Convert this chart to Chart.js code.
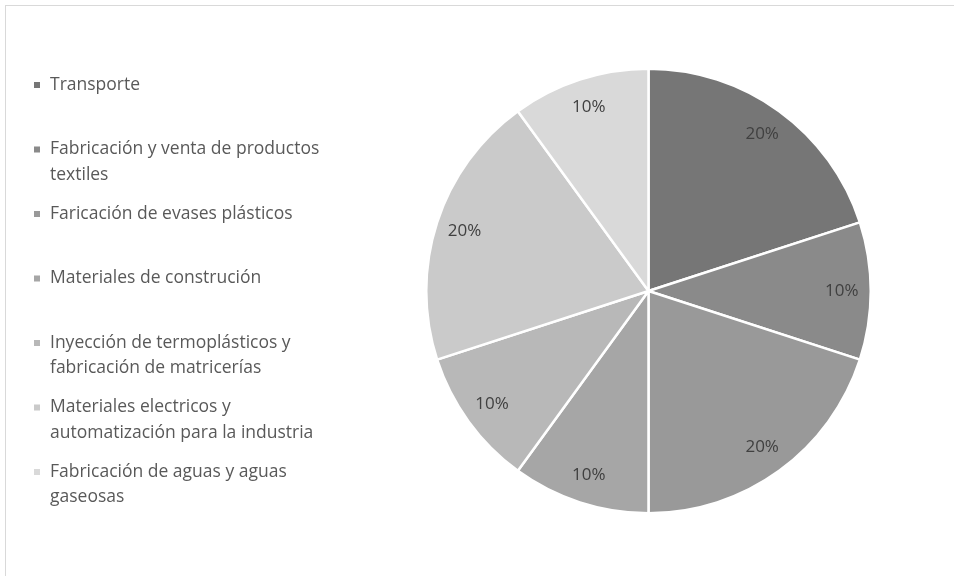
<!DOCTYPE html>
<html lang="es">
<head>
<meta charset="UTF-8">
<title>Sectores</title>
<script src="https://cdn.jsdelivr.net/npm/chart.js"></script>
<style>
  body { margin: 0; background: #fff; overflow: hidden; }
  #wrap { position: relative; width: 954px; height: 576px; }
  #frame { position: absolute; left: 5px; top: 5px; width: 949px; height: 571px;
           border-top: 1px solid #d9d9d9; border-left: 1px solid #d9d9d9; pointer-events: none; }
</style>
</head>
<body>
<div id="wrap">
  <canvas id="chart" width="954" height="576"></canvas>
  <div id="frame"></div>
</div>
<script>
const sectores = [
  "Transporte",
  ["Fabricación y venta de productos", "textiles"],
  "Faricación de evases plásticos",
  "Materiales de construción",
  ["Inyección de termoplásticos y", "fabricación de matricerías"],
  ["Materiales electricos y", "automatización para la industria"],
  ["Fabricación de aguas y aguas", "gaseosas"]
];
const porcentajes = [20, 10, 20, 10, 10, 20, 10];
const grises = ["#767676", "#8a8a8a", "#999999", "#a6a6a6", "#b8b8b8", "#cacaca", "#d9d9d9"];

const FONT = '"Open Sans", "Noto Sans", sans-serif';

// percentage text near the outer edge of each slice
const sliceLabels = {
  id: 'sliceLabels',
  afterDatasetsDraw(chart) {
    const ctx = chart.ctx;
    const values = chart.data.datasets[0].data;
    const total = values.reduce((a, b) => a + b, 0);
    ctx.save();
    ctx.font = '17px ' + FONT;
    ctx.fillStyle = '#404040';
    ctx.textAlign = 'center';
    ctx.textBaseline = 'middle';
    chart.getDatasetMeta(0).data.forEach((arc, i) => {
      const p = arc.getProps(['x', 'y', 'startAngle', 'endAngle', 'outerRadius'], true);
      const mid = (p.startAngle + p.endAngle) / 2;
      const r = p.outerRadius * 0.87;
      const txt = Math.round(values[i] / total * 100) + '%';
      ctx.fillText(txt, p.x + Math.cos(mid) * r, p.y + Math.sin(mid) * r);
    });
    ctx.restore();
  }
};

// legend on the left, evenly spaced items with wrapped names
const sideLegend = {
  id: 'sideLegend',
  afterDraw(chart) {
    const ctx = chart.ctx;
    const colors = chart.data.datasets[0].backgroundColor;
    ctx.save();
    ctx.font = '17.5px ' + FONT;
    ctx.textBaseline = 'middle';
    chart.data.labels.forEach((label, i) => {
      const lines = Array.isArray(label) ? label : [label];
      const y = 85 + i * 64.5;
      ctx.fillStyle = colors[i];
      ctx.fillRect(34, y - 3, 6, 6);
      ctx.fillStyle = '#595959';
      lines.forEach((line, j) => ctx.fillText(line, 50, y + j * 25.5));
    });
    ctx.restore();
  }
};

new Chart(document.getElementById('chart'), {
  type: 'pie',
  data: {
    labels: sectores,
    datasets: [{
      data: porcentajes,
      backgroundColor: grises,
      borderColor: '#ffffff',
      borderWidth: 2.5
    }]
  },
  options: {
    responsive: false,
    animation: false,
    layout: { padding: { left: 425, right: 82, top: 66, bottom: 60 } },
    plugins: {
      legend: { display: false },
      tooltip: { enabled: false }
    }
  },
  plugins: [sliceLabels, sideLegend]
});
</script>
</body>
</html>
